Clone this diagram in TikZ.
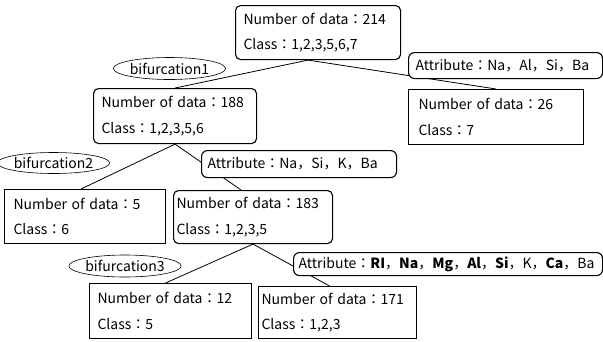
\documentclass[tikz,border=0pt]{standalone}
\usepackage{fontspec}
\setmainfont{Noto Sans CJK JP}
\usetikzlibrary{shapes.geometric}

\begin{document}
\begin{tikzpicture}[x=1pt,y=-1pt,
            every node/.style={font=\fontsize{14}{25.5}\selectfont},
            data node/.style={draw, line width=1.1pt, fill=white, rounded corners=5pt,
                anchor=north west, align=left, inner ysep=0pt},
            square node/.style={data node, sharp corners},
            attr node/.style={data node, rounded corners=6pt},
            split node/.style={draw, ellipse, line width=0.6pt, inner sep=0pt,
                minimum width=105pt, minimum height=22pt},
            connector/.style={line width=0.8pt}]

        \useasboundingbox (0,0) rectangle (603,341);

        % Define vertices
        \node[data node, minimum width=165pt, minimum height=54pt, inner xsep=8pt, text width=149pt]
            (root) at (235,5) {Number of data：214\\Class：1,2,3,5,6,7};
        \node[data node, minimum width=163pt, minimum height=55pt, inner xsep=8pt, text width=147pt]
            (n188) at (93,88) {Number of data：188\\Class：1,2,3,5,6};
        \node[square node, minimum width=175pt, minimum height=55pt, inner xsep=10pt, text width=155pt]
            (n26) at (408,89) {Number of data：26\\Class：7};
        \node[square node, minimum width=161pt, minimum height=54pt, inner xsep=9pt, text width=143pt]
            (n5) at (4,189) {Number of data：5\\Class：6};
        \node[data node, minimum width=159pt, minimum height=53pt, inner xsep=3pt, text width=153pt]
            (n183) at (173,190) {Number of data：183\\Class：1,2,3,5};
        \node[square node, minimum width=162pt, minimum height=55pt, inner xsep=8pt, text width=146pt]
            (n12) at (89,283) {Number of data：12\\Class：5};
        \node[square node, minimum width=158pt, minimum height=52pt, inner xsep=3pt, text width=152pt]
            (n171) at (258,286) {Number of data：171\\Class：1,2,3};

        \node[split node] (bif1) at (169.5,68.5) {bifurcation1};
        \node[split node, minimum height=21pt] (bif2) at (53.5,163) {bifurcation2};
        \node[split node] (bif3) at (125,266) {bifurcation3};

        % Draw edges
        \path[connector]
            ([xshift=-10pt]root.south) edge (n188.north)
            ([xshift=-10pt]root.south) edge (n26.north)
            (n188.south) edge ([xshift=-4pt]n5.north)
            (n188.south) edge ([xshift=-12pt]n183.north)
            (n183.south) edge ([xshift=-5pt]n12.north)
            (n183.south) edge ([xshift=-8pt]n171.north);

        % Attributes on top of the edges
        \node[attr node, minimum width=194pt, minimum height=26pt, inner xsep=7pt, text width=180pt]
            (attr1) at (408,52) {Attribute：Na，Al，Si，Ba};
        \node[attr node, minimum width=195pt, minimum height=27pt, inner xsep=6pt, text width=183pt]
            (attr2) at (201,150) {Attribute：Na，Si，K，Ba};
        \node[attr node, minimum width=309pt, minimum height=23pt, inner xsep=5pt, text width=299pt]
            (attr3) at (293,252) {Attribute：\textbf{RI}，\textbf{Na}，\textbf{Mg}，\textbf{Al}，\textbf{Si}，K，\textbf{Ca}，Ba};

\end{tikzpicture}
\end{document}
